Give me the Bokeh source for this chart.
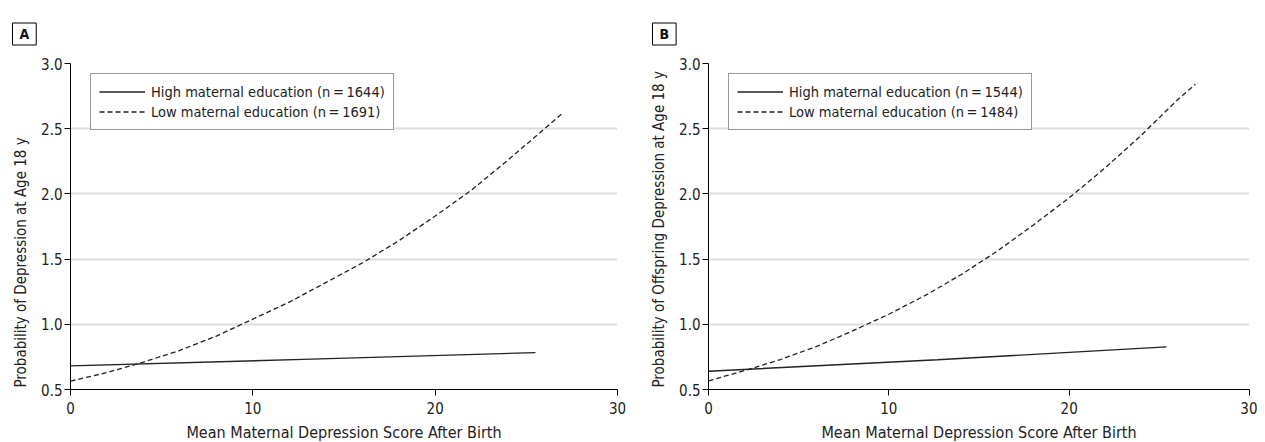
from bokeh.plotting import figure
from bokeh.models import Range1d, Legend, LegendItem, FixedTicker, NumeralTickFormatter, Title
from bokeh.layouts import row
from bokeh.embed import file_html
from bokeh.resources import INLINE

# ---- data ----
x_low_a = [0, 2, 4, 6, 8, 10, 12, 14, 16, 18, 20, 22, 24, 26, 27]
y_low_a = [0.564, 0.63, 0.71, 0.80, 0.91, 1.04, 1.17, 1.32, 1.47, 1.64, 1.83, 2.03, 2.26, 2.50, 2.62]
x_high_a = [0, 12.75, 25.5]
y_high_a = [0.681, 0.731, 0.783]

x_low_b = [0, 2, 4, 6, 8, 10, 12, 14, 16, 18, 20, 22, 24, 26, 27]
y_low_b = [0.566, 0.645, 0.73, 0.83, 0.95, 1.077, 1.22, 1.38, 1.56, 1.76, 1.97, 2.20, 2.45, 2.72, 2.84]
x_high_b = [0, 12.7, 25.4]
y_high_b = [0.640, 0.728, 0.827]

x_ticks = [0, 10, 20, 30]
y_ticks = [0.5, 1.0, 1.5, 2.0, 2.5, 3.0]

legend_a = ["High maternal education (n\u2009=\u20091644)", "Low maternal education (n\u2009=\u20091691)"]
legend_b = ["High maternal education (n\u2009=\u20091544)", "Low maternal education (n\u2009=\u20091484)"]

FONT = "DejaVu Sans Condensed"
LINE = "#222222"


def make_panel(tag, ylabel, xh, yh, xl, yl, labels, left, width, right, tag_left):
    fh = 326
    top = 63
    bottom = 52
    p = figure(width=left + width + right, height=top + fh + bottom,
               x_range=Range1d(0, 30), y_range=Range1d(0.5, 3.0),
               output_backend="svg", toolbar_location=None,
               min_border_left=left, min_border_right=right,
               min_border_top=top, min_border_bottom=bottom)
    p.frame_width = width
    p.frame_height = fh
    p.outline_line_color = None
    p.background_fill_color = "white"

    r1 = p.line(xh, yh, line_color=LINE, line_width=1.4)
    r2 = p.line(xl, yl, line_color=LINE, line_width=1.3, line_dash="5 3")

    for ax in (p.xaxis[0], p.yaxis[0]):
        ax.axis_line_color = "black"
        ax.axis_line_width = 1
        ax.major_tick_line_color = "black"
        ax.major_tick_out = 6
        ax.major_tick_in = 0
        ax.minor_tick_line_color = None
        ax.major_label_text_font = FONT
        ax.major_label_text_font_size = "15px"
        ax.major_label_text_color = "#222222"
        ax.axis_label_text_font = FONT
        ax.axis_label_text_font_style = "normal"
        ax.axis_label_text_color = "#222222"
    p.xaxis.axis_label_text_font_size = "16px"
    p.xaxis.ticker = FixedTicker(ticks=x_ticks)
    p.yaxis.ticker = FixedTicker(ticks=y_ticks)
    p.yaxis.formatter = NumeralTickFormatter(format="0.0")
    p.xaxis.axis_label = "Mean Maternal Depression Score After Birth"
    p.xaxis.major_label_standoff = 6
    p.yaxis.major_label_standoff = 2
    p.xaxis.axis_label_standoff = 6

    # y-axis title: a side title that starts at the bottom of the frame
    ytitle = Title(text=ylabel, align="left", offset=2, standoff=13, vertical_align="top",
                   text_font=FONT, text_font_size="15px", text_font_style="normal",
                   text_color="#222222")
    p.add_layout(ytitle, "left")

    p.xgrid.grid_line_color = None
    p.ygrid.grid_line_color = "#dddddd"
    p.ygrid.grid_line_width = 2

    legend = Legend(items=[LegendItem(label=labels[0], renderers=[r1]),
                           LegendItem(label=labels[1], renderers=[r2])],
                    location=(20, 259))
    legend.border_line_color = "#333333"
    legend.border_line_width = 1
    legend.background_fill_color = "white"
    legend.background_fill_alpha = 1
    legend.label_text_font = FONT
    legend.label_text_font_size = "14.5px"
    legend.label_text_color = "#222222"
    legend.glyph_width = 46
    legend.glyph_height = 19
    legend.label_height = 19
    legend.spacing = 1
    legend.padding = 8
    legend.margin = 0
    legend.label_standoff = 6
    p.add_layout(legend, "center")

    # panel tag ("A" / "B") as a boxed title
    p.title.text = tag
    p.title.align = "left"
    p.title.vertical_align = "top"
    p.title.offset = -(left - tag_left)
    p.title.standoff = 33
    p.title.text_font = FONT
    p.title.text_font_style = "bold"
    p.title.text_font_size = "14px"
    p.title.text_color = "#111111"
    p.title.border_line_color = "black"
    p.title.border_line_width = 1
    p.title.background_fill_color = "white"
    if "padding" in p.title.properties():
        try:
            p.title.padding = dict(left=7, right=7, top=3, bottom=3)
        except Exception:
            p.title.padding = (4, 7)
    return p


pa = make_panel("A", "Probability of Depression at Age 18 y",
                x_high_a, y_high_a, x_low_a, y_low_a, legend_a, 70, 547, 23, 12)
pb = make_panel("B", "Probability of Offspring Depression at Age 18 y",
                x_high_b, y_high_b, x_low_b, y_low_b, legend_b, 68, 541, 8, 12)

layout = row(pa, pb)
open("out.html", "w").write(file_html(layout, INLINE))
